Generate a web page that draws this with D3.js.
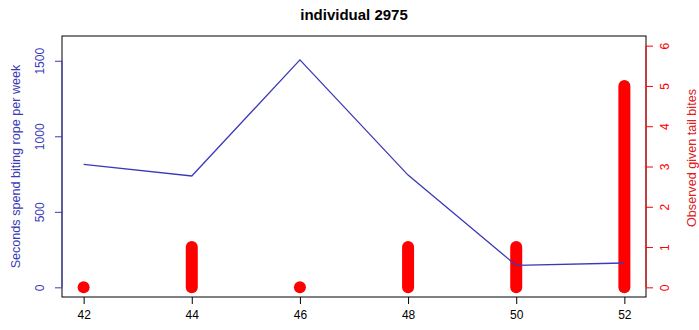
<!DOCTYPE html>
<html>
<head>
<meta charset="utf-8">
<script src="https://cdn.jsdelivr.net/npm/d3@7"></script>
<style>
  body { margin: 0; background: #fff; }
  text { font-family: "Liberation Sans", Arial, sans-serif; }
</style>
</head>
<body>
<div id="chart"></div>
<script>
// data
var weeks = [42, 44, 46, 48, 50, 52];
var ropeSeconds = [814, 737, 1506, 743, 145, 161];
var tailBites = [0, 1, 0, 1, 1, 5];
var xTicks = [42, 44, 46, 48, 50, 52];
var leftTicks = [0, 500, 1000, 1500];
var rightTicks = [0, 1, 2, 3, 4, 5, 6];

var W = 699, H = 330;
var box = { left: 62, right: 646, top: 36, bottom: 297 };
var blue = "#3a3ab8", red = "#ff0000";

var svg = d3.select("#chart").append("svg")
  .attr("width", W)
  .attr("height", H);

var x = d3.scaleLinear().domain([41.6, 52.4]).range([box.left, box.right]);
var yL = d3.scaleLinear().domain([-64, 1664]).range([box.bottom, box.top]);
var yR = d3.scaleLinear().domain([-0.24, 6.24]).range([box.bottom, box.top]);

// title
svg.append("text")
  .attr("x", (box.left + box.right) / 2)
  .attr("y", 20)
  .attr("text-anchor", "middle")
  .style("font-size", "15px")
  .style("font-weight", "bold")
  .text("individual 2975");

// red tail bite bars (thick round-capped lines)
svg.append("g")
  .selectAll("path")
  .data(weeks.map(function (w, i) { return { w: w, v: tailBites[i] }; }))
  .enter()
  .append("path")
  .attr("d", function (d) {
    return "M" + x(d.w) + "," + yR(0) + "L" + x(d.w) + "," + yR(d.v);
  })
  .attr("stroke", red)
  .attr("stroke-width", 12)
  .attr("stroke-linecap", "round")
  .attr("fill", "none");

// blue line
var line = d3.line()
  .x(function (d, i) { return x(weeks[i]); })
  .y(function (d) { return yL(d); });

svg.append("path")
  .datum(ropeSeconds)
  .attr("d", line)
  .attr("fill", "none")
  .attr("stroke", blue)
  .attr("stroke-width", 1.3);

// box
svg.append("rect")
  .attr("x", box.left)
  .attr("y", box.top)
  .attr("width", box.right - box.left)
  .attr("height", box.bottom - box.top)
  .attr("fill", "none")
  .attr("stroke", "#000")
  .attr("stroke-width", 1);

// x axis
var xAxis = svg.append("g")
  .attr("transform", "translate(0," + box.bottom + ")")
  .call(d3.axisBottom(x).tickValues(xTicks).tickSize(7).tickPadding(6).tickFormat(d3.format("d")));
xAxis.select(".domain").remove();
xAxis.selectAll("text").style("font-size", "12px").attr("fill", "#000");

// left axis (blue)
var lAxis = svg.append("g")
  .attr("transform", "translate(" + box.left + ",0)")
  .call(d3.axisLeft(yL).tickValues(leftTicks).tickSize(7).tickFormat(d3.format("d")));
lAxis.select(".domain").remove();
lAxis.selectAll("line").attr("stroke", blue);
lAxis.selectAll("text")
  .attr("fill", blue)
  .style("font-size", "12px")
  .attr("x", null).attr("dy", null)
  .attr("transform", "translate(-21,0) rotate(-90)")
  .attr("text-anchor", "middle")
  .attr("dominant-baseline", "middle");
svg.append("line")
  .attr("x1", box.left).attr("x2", box.left)
  .attr("y1", yL(0)).attr("y2", yL(1500))
  .attr("stroke", blue);

// right axis (red)
var rAxis = svg.append("g")
  .attr("transform", "translate(" + box.right + ",0)")
  .call(d3.axisRight(yR).tickValues(rightTicks).tickSize(7).tickFormat(d3.format("d")));
rAxis.select(".domain").remove();
rAxis.selectAll("line").attr("stroke", red);
rAxis.selectAll("text")
  .attr("fill", red)
  .style("font-size", "12px")
  .attr("x", null).attr("dy", null)
  .attr("transform", "translate(20,0) rotate(-90)")
  .attr("text-anchor", "middle")
  .attr("dominant-baseline", "middle");
svg.append("line")
  .attr("x1", box.right).attr("x2", box.right)
  .attr("y1", yR(0)).attr("y2", yR(6))
  .attr("stroke", red);

// axis titles
svg.append("text")
  .attr("transform", "translate(17," + ((box.top + box.bottom) / 2) + ") rotate(-90)")
  .attr("text-anchor", "middle")
  .attr("dominant-baseline", "middle")
  .attr("fill", blue)
  .style("font-size", "12.6px")
  .text("Seconds spend biting rope per week");

svg.append("text")
  .attr("transform", "translate(693,158) rotate(-90)")
  .attr("text-anchor", "middle")
  .attr("dominant-baseline", "middle")
  .attr("fill", "#dd2020")
  .style("font-size", "12.6px")
  .text("Observed given tail bites");
</script>
</body>
</html>
